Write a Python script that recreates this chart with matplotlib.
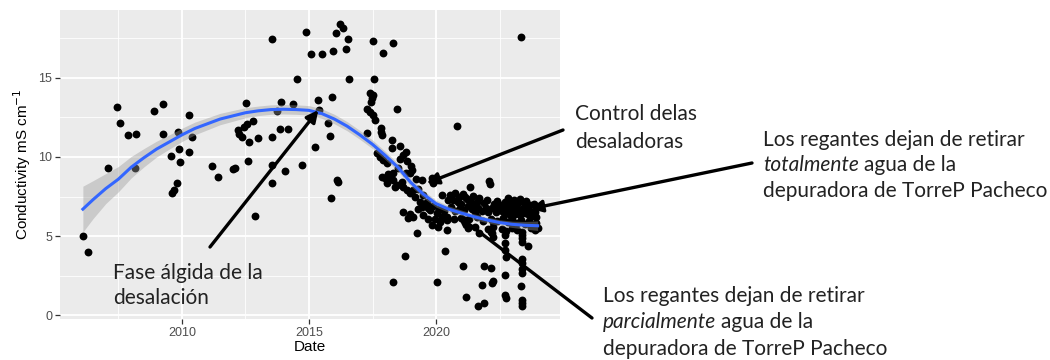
import matplotlib
matplotlib.use("Agg")
import matplotlib.pyplot as plt
import numpy as np
from matplotlib.ticker import MultipleLocator

# conductivity samples (decimal year, mS/cm)
years_early = [2006.11, 2006.31, 2007.10, 2007.43, 2007.56, 2007.89, 2008.19, 2008.15, 2008.91,
               2009.24, 2009.24, 2009.57, 2009.79, 2009.70, 2009.59, 2009.83, 2009.88, 2009.92,
               2010.28, 2010.28, 2010.38, 2011.17, 2011.43]
cond_early = [5.00, 3.97, 9.32, 13.18, 12.17, 11.39, 11.46, 9.28, 12.91,
              13.35, 11.46, 10.06, 8.33, 7.91, 7.70, 11.56, 10.49, 9.70,
              12.66, 10.34, 11.25, 9.45, 8.71]

years_mid = [2012.02, 2012.09, 2012.59, 2012.87, 2012.51, 2012.22, 2012.24, 2012.35, 2012.45,
             2012.55, 2012.65, 2012.81, 2012.98, 2013.56, 2013.56, 2013.56, 2013.53, 2013.73,
             2013.90, 2013.86, 2014.06, 2014.16, 2014.36, 2014.52, 2014.74, 2014.87, 2015.08,
             2015.24, 2015.37, 2015.39, 2015.52, 2015.76, 2015.83, 2015.89, 2015.87, 2015.96,
             2016.05, 2016.09, 2016.13, 2016.22, 2016.35, 2016.44, 2016.52, 2016.59]
cond_mid = [9.22, 9.28, 9.75, 6.27, 13.40, 11.71, 11.46, 11.29, 11.92,
            12.09, 10.97, 12.30, 11.18, 9.49, 8.33, 11.29, 17.47, 12.91,
            13.50, 11.75, 9.13, 11.75, 13.33, 14.92, 9.49, 17.93, 16.52,
            10.65, 13.61, 12.97, 16.50, 12.13, 11.35, 13.82, 7.39, 16.73,
            17.83, 8.52, 8.44, 18.40, 18.14, 16.81, 17.47, 14.92]

years_drop = [2017.53, 2017.93, 2018.30, 2017.56, 2017.40, 2017.47, 2017.53, 2017.45, 2017.30,
              2017.40, 2017.52, 2017.60, 2018.45, 2017.82, 2017.84, 2017.86, 2017.27, 2018.27,
              2018.28, 2018.58, 2018.82, 2017.67, 2017.80, 2017.93, 2018.06, 2018.85, 2019.00,
              2019.06, 2018.97, 2017.86, 2017.99, 2018.19, 2018.32, 2018.45, 2018.06, 2018.39,
              2018.65, 2018.72, 2018.85, 2018.98, 2019.44, 2019.83, 2019.90, 2019.17, 2019.37,
              2019.44, 2019.63, 2020.22, 2020.48, 2019.76, 2020.02, 2020.24, 2020.42, 2018.69,
              2018.98, 2019.10, 2018.91, 2019.24, 2019.83, 2020.09, 2020.42, 2018.78, 2020.35,
              2018.32, 2020.03, 2018.60, 2018.70, 2018.50, 2018.30, 2018.10, 2018.80, 2019.20,
              2019.30, 2019.10, 2019.50, 2019.60, 2019.70, 2019.90, 2020.10, 2020.30, 2019.30,
              2019.50, 2019.70, 2019.95, 2020.15]
cond_drop = [17.36, 16.56, 17.20, 14.92, 14.07, 13.75, 13.95, 13.50, 13.04,
             12.85, 12.65, 12.34, 13.02, 11.84, 11.60, 11.40, 11.50, 11.10,
             10.60, 10.70, 10.30, 10.25, 10.00, 9.80, 9.60, 9.77, 9.45,
             9.15, 8.97, 8.75, 8.65, 8.75, 8.55, 8.23, 8.35, 8.12,
             8.44, 8.12, 7.92, 7.70, 8.54, 8.65, 8.35, 7.49, 7.17,
             6.85, 7.17, 7.60, 7.28, 6.65, 6.45, 6.20, 6.00, 6.54,
             6.40, 6.22, 6.12, 5.21, 5.70, 5.60, 5.38, 3.73, 4.05,
             2.11, 2.11, 9.90, 10.10, 9.30, 9.00, 8.90, 9.00, 8.60,
             8.00, 7.90, 7.60, 7.00, 6.80, 6.90, 6.70, 6.60, 6.70,
             6.30, 6.10, 6.10, 5.90]

years_late = [2020.81, 2022.10, 2022.13, 2021.34,
              2020.55, 2020.75, 2020.90, 2021.05, 2021.20, 2021.35, 2021.50, 2021.60, 2020.65,
              2020.85, 2021.00, 2021.15, 2021.45, 2021.70, 2021.90, 2022.00, 2022.30, 2022.40,
              2022.55, 2022.70, 2022.85, 2022.95, 2023.05, 2023.20, 2023.30, 2023.45, 2023.55,
              2023.70, 2023.85,
              2020.60, 2020.75, 2020.95, 2021.10, 2021.25, 2021.40, 2021.55, 2021.65, 2021.80,
              2021.95, 2022.05, 2022.20, 2022.35, 2022.45, 2022.60, 2022.75, 2022.80, 2022.90,
              2023.00, 2023.10, 2023.15, 2023.25, 2023.30, 2023.40, 2023.50, 2023.60, 2023.65,
              2023.75, 2023.80, 2023.90, 2023.95,
              2020.45, 2020.70, 2021.00, 2021.30, 2021.60, 2021.85, 2022.15, 2022.40, 2022.65,
              2022.85, 2023.00, 2023.20, 2023.35, 2023.50, 2023.65, 2023.80, 2023.95, 2024.00,
              2023.90,
              2021.25, 2021.55, 2021.70, 2022.20, 2022.24, 2022.26, 2022.25, 2022.60, 2022.70,
              2022.75, 2023.00, 2023.20, 2023.37, 2023.37, 2023.40, 2023.63, 2023.75, 2022.05,
              2022.15,
              2022.72, 2022.72, 2022.74, 2023.37, 2023.37, 2023.37, 2023.37, 2023.37, 2023.36,
              2023.37, 2023.37, 2023.37, 2021.05, 2021.18, 2021.87, 2022.15, 2021.80, 2022.19,
              2022.26, 2021.67, 2021.89, 2022.72, 2022.70, 2022.74, 2023.35]
cond_late = [11.96, 8.50, 8.30, 8.12,
             7.60, 7.75, 7.45, 7.65, 7.35, 7.25, 7.00, 7.15, 7.30,
             7.15, 7.05, 7.50, 7.55, 7.40, 7.10, 7.30, 7.00, 7.20,
             6.95, 7.15, 7.40, 7.05, 7.25, 7.00, 7.35, 7.10, 7.20,
             6.95, 7.05,
             6.85, 6.60, 6.80, 6.65, 6.90, 6.70, 6.50, 6.80, 6.60,
             6.80, 6.55, 6.75, 6.50, 6.80, 6.60, 6.45, 6.80, 6.30,
             6.60, 6.40, 6.80, 6.55, 6.30, 6.70, 6.45, 6.75, 6.30,
             6.55, 6.25, 6.50, 6.20,
             6.20, 6.05, 6.15, 6.10, 6.20, 5.95, 6.10, 5.95, 6.15,
             5.90, 6.10, 5.85, 6.00, 5.75, 5.95, 5.70, 5.80, 5.50,
             5.35,
             5.50, 5.55, 5.20, 5.20, 4.95, 5.60, 5.90, 5.45, 5.05,
             5.30, 5.50, 5.35, 5.25, 5.05, 4.85, 4.37, 5.50, 5.45,
             5.25,
             4.54, 4.11, 3.69, 4.64, 3.52, 3.30, 2.90, 2.68, 1.84,
             0.95, 0.75, 0.57, 3.10, 1.12, 3.10, 3.00, 1.90, 2.04,
             2.17, 0.57, 0.74, 2.53, 1.27, 1.06, 17.60]

years = np.array(years_early + years_mid + years_drop + years_late)
cond = np.array(cond_early + cond_mid + cond_drop + cond_late)

# loess trend and its confidence half-width
smooth_year = [2006.1, 2006.5, 2007.0, 2007.5, 2008.0, 2008.5, 2009.0, 2009.5, 2010.0, 2010.5,
               2011.0, 2011.5, 2012.0, 2012.5, 2013.0, 2013.5, 2014.0, 2014.5, 2015.0, 2015.5,
               2016.0, 2016.5, 2017.0, 2017.5, 2018.0, 2018.5, 2019.0, 2019.5, 2020.0, 2020.5,
               2021.0, 2021.5, 2022.0, 2022.5, 2023.0, 2023.5, 2024.0]
smooth_fit = [6.70, 7.30, 8.00, 8.60, 9.35, 9.95, 10.50, 10.95, 11.40, 11.80,
              12.10, 12.40, 12.60, 12.80, 12.92, 13.00, 13.02, 13.00, 12.95, 12.75,
              12.40, 11.95, 11.40, 10.80, 10.10, 9.35, 8.40, 7.65, 7.05, 6.70,
              6.45, 6.22, 6.02, 5.85, 5.74, 5.68, 5.65]
smooth_se = [1.45, 1.20, 0.95, 0.80, 0.68, 0.58, 0.50, 0.45, 0.42, 0.40,
             0.38, 0.36, 0.34, 0.32, 0.30, 0.30, 0.30, 0.30, 0.30, 0.30,
             0.30, 0.29, 0.28, 0.27, 0.26, 0.25, 0.24, 0.23, 0.22, 0.20,
             0.19, 0.18, 0.18, 0.18, 0.20, 0.24, 0.30]

W, H = 1050, 360
fig = plt.figure(figsize=(W / 100, H / 100), dpi=100)
ax = fig.add_axes([60 / W, 1 - 319 / H, 500 / W, 309 / H])

ax.set_facecolor("#EBEBEB")
for s in ax.spines.values():
    s.set_visible(False)
ax.xaxis.set_major_locator(MultipleLocator(5))
ax.xaxis.set_minor_locator(MultipleLocator(2.5))
ax.yaxis.set_major_locator(MultipleLocator(5))
ax.yaxis.set_minor_locator(MultipleLocator(2.5))
ax.grid(which="major", color="white", lw=1.3)
ax.grid(which="minor", color="white", lw=0.6)
ax.set_axisbelow(True)
ax.tick_params(which="minor", length=0)
ax.tick_params(which="major", length=3.5, width=0.9, color="#333333",
               labelcolor="#4D4D4D", labelsize=9, pad=2)

ax.scatter(years, cond, s=32, color="black", linewidths=0, zorder=2)

lo = np.array(smooth_fit) - np.array(smooth_se)
hi = np.array(smooth_fit) + np.array(smooth_se)
ax.fill_between(smooth_year, lo, hi, color="#999999", alpha=0.4, lw=0, zorder=3)
ax.plot(smooth_year, smooth_fit, color="#3366FF", lw=2.2, zorder=4)

ax.set_xlim(2005.2, 2024.88)
ax.set_ylim(-0.25, 19.3)
ax.set_xlabel("Date", fontsize=11, family="Liberation Sans", labelpad=1)
ax.set_ylabel(r"Conductivity mS cm$^{-1}$", fontsize=11, family="Liberation Sans", labelpad=4)
for lab in ax.get_xticklabels() + ax.get_yticklabels():
    lab.set_family("Liberation Sans")

# callout text, positions in pixels from the top-left corner
FONT = "Lato"
TXT = "#222222"
FS = 15


def put(x, y, s, **kw):
    return fig.text(x / W, 1 - y / H, s, family=FONT, fontsize=FS, color=TXT,
                    va="baseline", ha="left", **kw)


def put_mixed(x, y, italic, rest):
    t = put(x, y, italic, style="italic")
    bb = t.get_window_extent(fig.canvas.get_renderer())
    put(bb.x1 + 5, y, rest)


put(113, 279, "Fase álgida de la")
put(113, 304, "desalación")

put(575, 120, "Control delas")
put(575, 148, "desaladoras")

put(763, 146, "Los regantes dejan de retirar")
put_mixed(763, 171, "totalmente", "agua de la")
put(763, 197, "depuradora de TorreP Pacheco")

put(603, 302, "Los regantes dejan de retirar")
put_mixed(603, 328, "parcialmente", "agua de la")
put(603, 355, "depuradora de TorreP Pacheco")

arrow = dict(arrowstyle="-|>,head_length=0.5,head_width=0.25", color="black",
             lw=2.4, shrinkA=0, shrinkB=0, mutation_scale=14)
# (target in data, tail in pixels from top-left)
callouts = [((2015.37, 12.97), (210, 247)),
            ((2019.63, 8.34), (563, 130)),
            ((2023.72, 6.72), (752, 163)),
            ((2020.83, 6.33), (592, 318))]
for (tx, ty), (px, py) in callouts:
    ax.annotate("", xy=(tx, ty), xycoords="data",
                xytext=(px / W, 1 - py / H), textcoords="figure fraction",
                arrowprops=arrow, annotation_clip=False, zorder=6)

fig.savefig("out.png", dpi=100, facecolor="white")
